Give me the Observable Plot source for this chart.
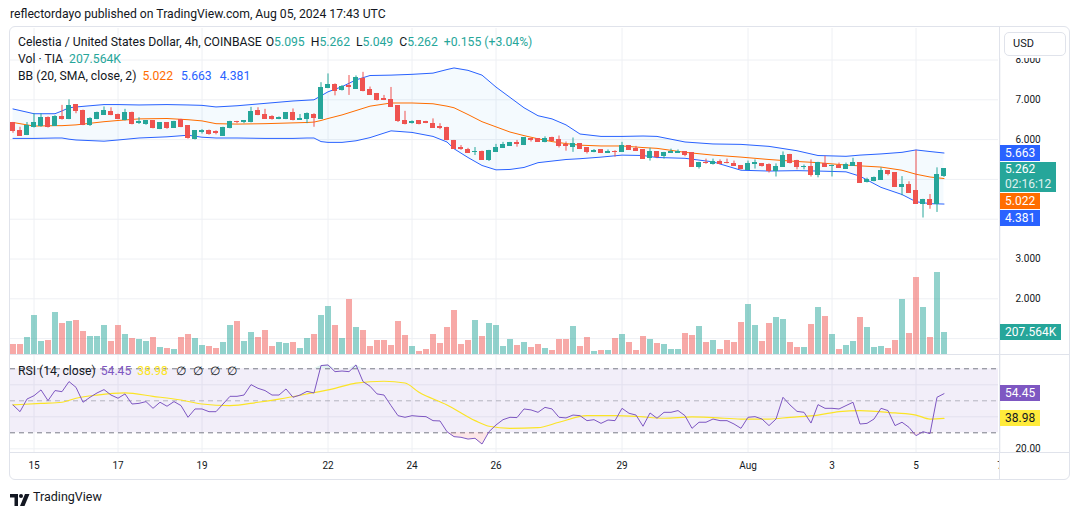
<!DOCTYPE html>
<html>
<head>
<meta charset="utf-8">
<script src="https://cdn.jsdelivr.net/npm/d3@7"></script>
<script src="https://cdn.jsdelivr.net/npm/@observablehq/plot@0.6"></script>
<style>
  body { margin: 0; background: #fff; font-family: Roboto, "Noto Sans", sans-serif; color: #131722; }
  #root { position: relative; width: 1080px; height: 515px; overflow: hidden; }
  .layer { position: absolute; left: 0; top: 0; }
</style>
</head>
<body>
<div id="root"></div>
<script>
// ---- Celestia / USD, 4h bars, COINBASE ----
const firstBar = Date.UTC(2024, 6, 14, 12);   // opening time of the first 4h bar shown
const barHours = 4;

const opens = [6.41,6.21,6.11,6.31,6.35,6.55,6.35,6.58,6.52,6.87,6.73,6.36,6.52,6.63,6.70,6.63,6.48,6.68,6.42,6.40,
  6.46,6.26,6.41,6.30,6.48,6.33,6.01,6.20,6.21,6.19,6.10,6.28,6.45,6.45,6.43,6.71,6.63,6.58,6.52,6.52,
  6.66,6.50,6.53,6.63,6.53,7.30,7.38,7.24,7.34,7.28,7.53,7.24,7.14,7.03,6.99,6.84,6.47,6.42,6.46,6.43,
  6.40,6.32,6.30,5.97,5.78,5.75,5.68,5.70,5.50,5.70,5.79,5.84,5.91,5.86,6.01,6.01,5.93,6.03,5.99,5.86,
  5.81,5.88,5.78,5.70,5.73,5.66,5.70,5.69,5.83,5.77,5.73,5.53,5.68,5.58,5.67,5.67,5.68,5.66,5.32,5.41,
  5.39,5.44,5.41,5.39,5.34,5.24,5.39,5.39,5.37,5.22,5.31,5.61,5.47,5.30,5.32,5.11,5.39,5.33,5.33,5.26,
  5.34,5.41,4.94,4.96,4.99,5.21,5.16,4.81,4.87,4.70,4.39,4.47,4.39,5.095];
const highs = [6.43,6.31,6.43,6.65,6.65,6.57,6.60,6.86,7.00,6.88,6.74,6.55,6.69,6.82,6.80,6.64,6.76,6.69,6.55,6.48,
  6.47,6.42,6.43,6.46,6.51,6.34,6.22,6.25,6.24,6.22,6.31,6.46,6.46,6.48,6.81,6.80,6.76,6.60,6.57,6.68,
  6.77,6.63,6.67,6.65,7.43,7.65,7.40,7.36,7.61,7.60,7.69,7.32,7.16,7.11,7.31,6.85,6.71,6.47,6.47,6.46,
  6.52,6.40,6.31,5.98,5.85,5.78,5.80,5.71,5.73,5.88,5.93,5.93,5.98,6.04,6.03,6.02,6.07,6.06,6.09,5.94,
  6.04,5.89,5.79,5.75,5.75,5.74,5.72,5.93,5.85,5.83,5.74,5.78,5.70,5.68,5.76,5.74,5.70,5.67,5.43,5.51,
  5.51,5.49,5.51,5.46,5.35,5.46,5.49,5.40,5.39,5.39,5.69,5.63,5.48,5.36,5.49,5.43,5.58,5.36,5.41,5.41,
  5.53,5.42,5.03,5.06,5.29,5.22,5.17,5.07,4.94,5.73,4.50,4.62,5.29,5.262];
const lows = [6.16,6.09,6.10,6.29,6.31,6.29,6.34,6.49,6.50,6.65,6.35,6.33,6.50,6.61,6.60,6.50,6.47,6.37,6.38,6.36,
  6.27,6.25,6.26,6.28,6.30,6.01,5.99,6.14,6.11,6.12,6.09,6.27,6.40,6.40,6.42,6.60,6.52,6.49,6.50,6.50,
  6.47,6.48,6.40,6.31,6.52,7.28,7.10,7.22,7.11,7.26,7.20,7.11,6.97,6.98,6.81,6.43,6.37,6.39,6.37,6.40,
  6.28,6.25,5.97,5.76,5.73,5.66,5.60,5.48,5.45,5.69,5.78,5.83,5.81,5.85,5.94,5.93,5.92,5.95,5.79,5.71,
  5.68,5.75,5.64,5.67,5.65,5.65,5.56,5.68,5.73,5.70,5.50,5.46,5.52,5.51,5.65,5.66,5.57,5.31,5.26,5.38,
  5.36,5.37,5.39,5.33,5.24,5.23,5.26,5.31,5.16,5.06,5.30,5.39,5.24,5.24,5.06,5.04,5.30,5.06,5.28,5.25,
  5.33,4.91,4.91,4.94,4.98,5.09,4.80,4.59,4.66,4.38,4.03,4.25,4.17,5.049];
const closes = [6.21,6.10,6.35,6.41,6.55,6.31,6.58,6.51,6.85,6.72,6.36,6.53,6.66,6.71,6.61,6.52,6.68,6.38,6.44,6.46,
  6.28,6.41,6.28,6.45,6.31,6.03,6.21,6.22,6.13,6.17,6.30,6.43,6.43,6.47,6.70,6.61,6.53,6.51,6.54,6.66,
  6.48,6.52,6.65,6.55,7.30,7.37,7.23,7.33,7.31,7.56,7.21,7.12,6.99,7.00,6.82,6.46,6.39,6.44,6.39,6.42,
  6.29,6.30,5.99,5.77,5.77,5.67,5.70,5.50,5.72,5.80,5.86,5.91,5.89,6.03,5.98,5.94,6.01,5.96,5.83,5.84,
  5.88,5.76,5.69,5.72,5.66,5.70,5.69,5.83,5.74,5.71,5.51,5.68,5.56,5.66,5.68,5.68,5.61,5.32,5.42,5.40,
  5.44,5.39,5.40,5.34,5.26,5.39,5.40,5.34,5.22,5.32,5.58,5.42,5.31,5.31,5.11,5.41,5.31,5.34,5.29,5.36,
  5.41,4.92,4.99,5.04,5.21,5.14,4.81,4.87,4.67,4.39,4.49,4.35,5.107,5.262];
// volume in thousands of TIA
const volumesK = [93,93,158,363,121,130,391,288,307,316,214,167,167,270,121,270,186,149,140,121,
  158,65,56,47,158,186,149,84,74,56,112,270,307,121,205,158,223,74,112,102,
  112,56,149,186,363,446,270,149,511,251,223,74,130,130,84,307,177,74,28,47,
  186,102,251,409,93,130,316,167,288,270,74,140,84,112,65,93,56,37,140,140,
  260,74,158,28,37,37,149,186,112,37,167,140,102,93,47,47,195,177,260,112,
  130,47,130,112,298,465,270,121,288,344,326,112,65,65,279,437,353,186,47,84,
  121,344,251,65,74,56,130,511,195,716,437,158,763,207.564];

// Bollinger Bands (20, SMA, close, 2) at selected bars
const bbBars  = [0,3,6,7,8,9,13,15,18,22,25,27,29,32,36,40,42,43,44,45,47,49,51,54,57,60,62,63,65,67,
  69,71,73,75,77,79,81,84,87,90,92,96,100,104,108,112,115,119,121,124,127,129,131,133];
const bbUpper = [6.77,6.65,6.65,6.72,6.80,6.82,6.88,6.88,6.87,6.88,6.87,6.86,6.82,6.85,6.91,6.97,6.99,7.00,7.10,7.20,
  7.33,7.50,7.61,7.62,7.64,7.67,7.76,7.80,7.74,7.62,7.32,7.06,6.80,6.60,6.52,6.37,6.14,6.08,6.08,6.09,
  6.08,5.94,5.89,5.88,5.83,5.72,5.60,5.58,5.61,5.64,5.68,5.74,5.70,5.663];
const bbMid   = [6.43,6.34,6.35,6.35,6.36,6.37,6.45,6.48,6.52,6.53,6.50,6.47,6.40,6.39,6.40,6.42,6.43,6.44,6.48,6.53,
  6.62,6.73,6.84,6.92,6.92,6.90,6.84,6.80,6.63,6.45,6.32,6.19,6.10,6.02,5.95,5.90,5.86,5.84,5.84,5.80,
  5.78,5.68,5.61,5.56,5.50,5.45,5.42,5.36,5.34,5.31,5.23,5.13,5.06,5.022];
const bbLower = [6.03,6.03,6.04,6.04,6.01,5.99,5.96,5.99,6.04,6.07,6.11,6.06,6.04,6.04,6.03,6.03,6.04,6.04,5.95,5.93,
  5.93,5.97,6.05,6.22,6.18,6.08,5.94,5.77,5.55,5.35,5.24,5.25,5.30,5.42,5.46,5.50,5.52,5.56,5.61,5.60,
  5.55,5.53,5.44,5.23,5.21,5.22,5.21,5.19,5.08,4.80,4.62,4.44,4.39,4.381];

// RSI (14, close), one value per bar, and its moving average at selected bars
const rsiValues = [47.4,43.2,51.1,53.2,56.8,50.1,56.4,55.7,62.0,58.4,49.1,52.2,54.9,57.0,53.6,51.6,54.3,48.0,48.4,49.5,
  45.3,49.1,46.6,49.5,47.0,39.7,44.9,44.9,43.2,43.2,48.0,52.8,52.8,53.6,60.1,57.8,56.4,53.6,53.6,57.4,
  52.2,53.6,55.9,54.9,72.0,72.4,68.2,68.6,68.2,72.4,62.0,59.1,54.3,53.6,47.0,40.7,39.7,40.7,40.3,40.1,
  37.6,37.4,30.7,27.6,27.2,26.1,26.6,23.0,30.7,34.9,38.2,39.7,39.5,44.9,44.3,42.8,45.9,44.9,39.7,39.3,
  41.1,40.7,37.6,38.2,35.9,38.0,37.6,45.3,42.2,41.1,34.1,42.4,39.1,42.8,42.8,43.9,40.7,32.8,36.6,36.6,
  38.6,37.6,37.6,35.5,32.8,39.7,40.1,38.6,34.5,38.6,52.2,47.4,43.4,42.8,36.1,47.6,45.3,45.3,44.9,47.0,
  49.1,35.5,35.9,38.6,45.3,43.9,34.5,36.6,33.4,28.2,30.7,29.5,52.2,54.45];
const rsiMaBars = [0,4,7,9,12,16,20,24,27,31,35,38,42,46,49,53,56,58,62,66,68,71,75,78,82,86,89,93,97,100,
  104,108,111,115,118,121,126,129,131,133];
const rsiMaValues = [47.4,48.4,49.1,51.6,53.6,54.9,52.8,50.5,48.0,47.0,49.1,51.1,54.3,57.8,61.1,62.2,61.1,55.3,47.4,37.6,
  34.1,32.8,33.2,36.6,40.7,40.7,40.3,39.1,39.9,39.5,38.6,38.6,39.7,41.1,43.2,43.9,42.4,41.1,38.6,38.98];

// Axis ticks
const dayTicks  = ["2024-07-15","2024-07-17","2024-07-19","2024-07-22","2024-07-24","2024-07-26","2024-07-29","2024-08-01","2024-08-03","2024-08-05","2024-08-07"];
const dayLabels = ["15","17","19","22","24","26","29","Aug","3","5","7"];
const priceTicks = [1, 2, 3, 4, 5, 6, 7, 8];
const rsiTicks = [20, 40, 60];

// ---- derived records ----
const UP = "#26a69a", DOWN = "#ef5350", GRID = "#eef0f4", LINE = "#e0e3eb", INK = "#131722";
const FONT = "12.2px";
const barMs = barHours * 3600e3;
const timeOf = i => new Date(firstBar + i * barMs);
const candles = opens.map((o, i) => ({
  i, t: timeOf(i), o, h: highs[i], l: lows[i], c: closes[i], v: volumesK[i], rsi: rsiValues[i],
  col: closes[i] >= o ? UP : DOWN
}));
const bb = bbBars.map((b, k) => ({t: timeOf(b), up: bbUpper[k], mid: bbMid[k], lo: bbLower[k]}));
const rsiMa = rsiMaBars.map((b, k) => ({t: timeOf(b), v: rsiMaValues[k]}));
const tickDates = dayTicks.map(d => new Date(d + "T00:00:00Z"));
const labelOf = new Map(tickDates.map((d, k) => [+d, dayLabels[k]]));

// visible window: 7px per bar, panes from x=10 to x=998
const xScale = {type: "utc", domain: [timeOf(-2.5 / 7), timeOf(985.5 / 7)], range: [10, 998], label: null};
const priceY = {domain: [0.6005, 8.7915], range: [354, 28]};
const volumeY = {domain: [0, 2000], range: [354, 139.2]};
const rsiY = {domain: [17.7, 78.3], range: [452, 355]};
const half = 2.5 / 7, volHalf = 3 / 7;
const last = candles[candles.length - 1];
const prev = candles[candles.length - 2];
const bbLast = bb[bb.length - 1];
const maLast = rsiMa[rsiMa.length - 1];

const root = document.getElementById("root");
function add(css, html) {
  const d = document.createElement("div");
  d.style.cssText = "position:absolute;" + css;
  if (html != null) d.innerHTML = html;
  root.appendChild(d);
  return d;
}
const baseStyle = {background: "transparent", fontFamily: "Roboto, sans-serif", fontSize: "10px", color: INK, overflow: "visible"};
function mount(svg) { svg.classList.add("layer"); svg.style.position = "absolute"; root.appendChild(svg); return svg; }

// ---- tags on the price scale: placed at their values, pushed apart when they collide ----
const fmt3 = v => v.toFixed(3);
const py = Plot.scale({y: priceY});
const vy = Plot.scale({y: volumeY});
const ry = Plot.scale({y: rsiY});
const priceTags = [
  {y: py.apply(bbLast.up), h: 16, bg: "#2962ff", fg: "#fff", html: fmt3(bbLast.up)},
  {y: py.apply(last.c), h: 30, bg: UP, fg: "#fff", html: `${fmt3(last.c)}<br><span style="opacity:.85">02:16:12</span>`},
  {y: py.apply(bbLast.mid), h: 16, bg: "#ff6d00", fg: "#fff", html: fmt3(bbLast.mid)},
  {y: py.apply(bbLast.lo), h: 16, bg: "#2962ff", fg: "#fff", html: fmt3(bbLast.lo)}
].sort((a, b) => a.y - b.y);
let bottom = -Infinity;
for (const t of priceTags) { t.top = Math.max(t.y - 8, bottom + 1); bottom = t.top + t.h; }
const otherTags = [
  {top: vy.apply(last.v) - 8, h: 16, bg: UP, fg: "#fff", html: `${last.v.toFixed(3)}K`},
  {top: ry.apply(last.rsi) - 8, h: 16, bg: "#7e57c2", fg: "#fff", html: last.rsi.toFixed(2)},
  {top: ry.apply(maLast.v) - 8, h: 16, bg: "#ffeb3b", fg: INK, html: maLast.v.toFixed(2)}
];
const allTags = priceTags.concat(otherTags);
// scale labels hidden behind a tag are left out
const free = (y) => !allTags.some(t => y > t.top - 2 && y < t.top + t.h + 2);
const priceTickLabels = priceTicks.filter(v => free(py.apply(v)));
const rsiTickLabels = rsiTicks.filter(v => free(ry.apply(v)));

// ---- price pane ----
const pricePlot = Plot.plot({
  width: 1080, height: 515, marginLeft: 10, marginRight: 82, marginTop: 28, marginBottom: 161,
  style: baseStyle,
  x: {...xScale, axis: null},
  y: {...priceY, axis: null},
  color: {type: "identity"},
  marks: [
    Plot.ruleY(priceTicks, {stroke: GRID}),
    Plot.ruleX(tickDates, {stroke: GRID}),
    Plot.areaY(bb, {x: "t", y1: "lo", y2: "up", fill: "#2196f3", fillOpacity: 0.05, clip: true}),
    Plot.line(bb, {x: "t", y: "up", stroke: "#2962ff", strokeWidth: 1, clip: true}),
    Plot.line(bb, {x: "t", y: "lo", stroke: "#2962ff", strokeWidth: 1, clip: true}),
    Plot.line(bb, {x: "t", y: "mid", stroke: "#ff6d00", strokeWidth: 1, clip: true}),
    Plot.ruleX(candles, {x: "t", y1: "l", y2: "h", stroke: "col", strokeWidth: 1, clip: true}),
    Plot.rect(candles, {
      x1: d => timeOf(d.i - half), x2: d => timeOf(d.i + half), y1: "o", y2: "c", fill: "col",
      insetTop: -0.5, insetBottom: -0.5, shapeRendering: "crispEdges", clip: true
    }),
    Plot.axisY(priceTickLabels, {anchor: "right", tickSize: 0, tickPadding: 17, tickFormat: d => d.toFixed(3), fontSize: 10, fill: INK, label: null})
  ]
});
mount(pricePlot);

// ---- volume overlay (own scale, bottom of the price pane) ----
const volumePlot = Plot.plot({
  width: 1080, height: 515, marginLeft: 10, marginRight: 82, marginTop: 139, marginBottom: 161,
  style: baseStyle,
  x: {...xScale, axis: null},
  y: {...volumeY, axis: null},
  color: {type: "identity"},
  marks: [
    Plot.rect(candles, {
      x1: d => timeOf(d.i - volHalf), x2: d => timeOf(d.i + volHalf), y1: 0, y2: "v",
      fill: "col", fillOpacity: 0.5, shapeRendering: "crispEdges", clip: true
    })
  ]
});
mount(volumePlot);

// ---- RSI pane ----
const rsiPlot = Plot.plot({
  width: 1080, height: 515, marginLeft: 10, marginRight: 82, marginTop: 355, marginBottom: 63,
  style: baseStyle,
  x: xScale,
  y: {...rsiY, label: null},
  color: {type: "identity"},
  marks: [
    Plot.ruleY(rsiTicks, {stroke: GRID}),
    Plot.ruleX(tickDates, {stroke: GRID}),
    Plot.rect([0], {x1: () => xScale.domain[0], x2: () => xScale.domain[1], y1: 30, y2: 70, fill: "#7e57c2", fillOpacity: 0.1}),
    Plot.ruleY([70, 30], {stroke: "#787b86", strokeDasharray: "5,4"}),
    Plot.ruleY([50], {stroke: "#787b86", strokeOpacity: 0.5, strokeDasharray: "5,4"}),
    Plot.areaY(candles, {x: "t", y1: 30, y2: d => Math.min(d.rsi, 30), fill: "#f23645", fillOpacity: 0.12}),
    Plot.areaY(candles, {x: "t", y1: 70, y2: d => Math.max(d.rsi, 70), fill: "#089981", fillOpacity: 0.12}),
    Plot.line(rsiMa, {x: "t", y: "v", stroke: "#fbe426", strokeWidth: 1.2, curve: "monotone-x"}),
    Plot.line(candles, {x: "t", y: "rsi", stroke: "#7e57c2", strokeWidth: 1}),
    Plot.axisY(rsiTickLabels, {anchor: "right", tickSize: 0, tickPadding: 17, tickFormat: d => d.toFixed(2), fontSize: 10, fill: INK, label: null}),
    Plot.axisX(tickDates, {anchor: "bottom", tickSize: 0, tickPadding: 9, tickFormat: d => labelOf.get(+d), fontSize: 10, fill: INK, label: null})
  ]
});
mount(rsiPlot);

// ---- frame, separators, currency button ----
add("left:1000px;top:453px;width:69px;height:25px;background:#fff;");
add("left:1000px;top:27px;width:69px;height:31px;background:#fff;");
add(`left:9px;top:26px;width:1061px;height:454px;border:1px solid ${LINE};border-radius:6px;box-sizing:border-box;`);
add(`left:999px;top:26px;width:1px;height:454px;background:${LINE};`);
add(`left:9px;top:354px;width:1061px;height:1px;background:${LINE};`);
add(`left:9px;top:452px;width:1061px;height:1px;background:${LINE};`);
add(`left:1004px;top:32px;width:62px;height:24px;border:1px solid ${LINE};border-radius:5px;background:#fff;box-sizing:border-box;font-size:11px;line-height:22px;padding-left:8px;`, "USD");

// ---- header and legends ----
const line = (top, html) => add(`left:18px;top:${top}px;font-size:${FONT};line-height:14px;white-space:nowrap;color:${INK};`, html);
add(`left:10px;top:7px;font-size:${FONT};line-height:14px;color:${INK};white-space:nowrap;`,
  "reflectordayo published on TradingView.com, Aug 05, 2024 17:43 UTC");
const chg = last.c - prev.c, pct = chg / prev.c * 100;
line(35,
  `Celestia / United States Dollar, 4h, COINBASE` +
  `<span style="margin-left:4px">O<span style="color:${UP}">${fmt3(last.o)}</span></span>` +
  `<span style="margin-left:6px">H<span style="color:${UP}">${fmt3(last.h)}</span></span>` +
  `<span style="margin-left:6px">L<span style="color:${UP}">${fmt3(last.l)}</span></span>` +
  `<span style="margin-left:6px">C<span style="color:${UP}">${fmt3(last.c)}</span></span>` +
  `<span style="margin-left:6px;color:${UP}">+${chg.toFixed(3)} (+${pct.toFixed(2)}%)</span>`);
line(52, `Vol · TIA <span style="color:${UP};margin-left:3px">${last.v.toFixed(3)}K</span>`);
line(69,
  `BB (20, SMA, close, 2) <span style="color:#ff6d00;margin-left:3px">${fmt3(bbLast.mid)}</span>` +
  `<span style="color:#2962ff;margin-left:8px">${fmt3(bbLast.up)}</span>` +
  `<span style="color:#2962ff;margin-left:8px">${fmt3(bbLast.lo)}</span>`);
line(364,
  `RSI (14, close) <span style="color:#7e57c2;margin-left:2px">${last.rsi.toFixed(2)}</span>` +
  `<span style="color:#fbe426;margin-left:6px">${maLast.v.toFixed(2)}</span>` +
  `<span style="margin-left:8px">∅</span><span style="margin-left:7px">∅</span><span style="margin-left:7px">∅</span><span style="margin-left:7px">∅</span>`);

// ---- value tags on the right scale ----
for (const t of allTags) {
  add(`left:1000px;top:${t.top}px;height:${t.h}px;line-height:${t.h > 16 ? 15 : 16}px;padding:0 5px;font-size:12px;color:${t.fg};background:${t.bg};white-space:nowrap;`, t.html);
}

// ---- footer logo ----
add("left:10px;top:491px;width:20px;height:12px;",
  `<svg width="20" height="12" viewBox="0 0 20 12"><path d="M0 0h8v12H4.5V3.5H0z" fill="${INK}"/><circle cx="11" cy="2" r="2" fill="${INK}"/><path d="M15 0h4.5l-5 12H10z" fill="${INK}"/></svg>`);
add(`left:33px;top:489px;font-size:12.5px;line-height:16px;color:${INK};`, "TradingView");
</script>
</body>
</html>
